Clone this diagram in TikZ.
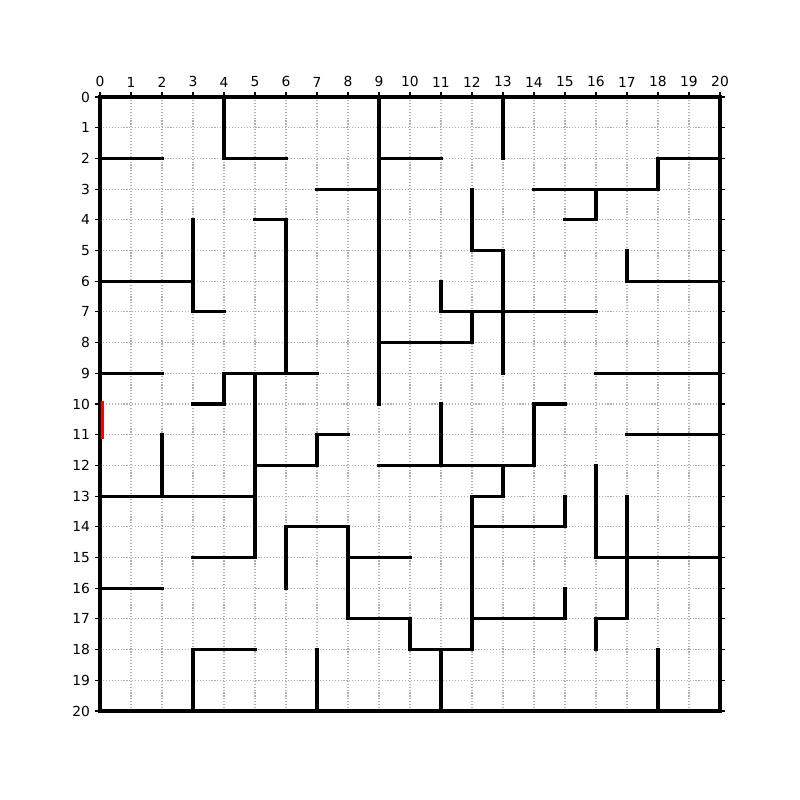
\documentclass[tikz,border=0pt]{standalone}
\usepackage{fontspec}
\setmainfont{DejaVu Sans}
\begin{document}
\begin{tikzpicture}[x=0.31in,y=-0.307in,
  wall/.style={line width=2.2pt,line cap=rect,black},
  gridl/.style={line width=0.8pt,color={rgb,255:red,176;green,176;blue,176},dash pattern=on 0.8pt off 1.32pt},
  tickl/.style={line width=0.8pt},
  lab/.style={inner sep=0pt,font=\fontsize{10}{12}\selectfont}]
\useasboundingbox (-1in,0.97in) rectangle (7in,-7.03in);
% grid
\foreach \i in {0,...,20} {
  \draw[gridl] (\i,0) -- (\i,20);
  \draw[gridl] (0,\i) -- (20,\i);
}
% outer walls
\draw[wall] (0,0) -- (20,0);
\draw[wall] (0,0) -- (0,20);
\draw[wall] (0,20) -- (20,20);
\draw[wall,line width=2.6pt] (20,0) -- (20,20);
% interior walls
\draw[wall] (4,0)--(4,2)--(6,2);
\draw[wall] (0,2)--(2,2);
\draw[wall] (9,0)--(9,10);
\draw[wall] (7,3)--(9,3);
\draw[wall] (9,2)--(11,2);
\draw[wall] (5,4)--(6,4)--(6,9);
\draw[wall] (3,4)--(3,7)--(4,7);
\draw[wall] (0,6)--(3,6);
\draw[wall] (9,8)--(12,8)--(12,7);
\draw[wall] (0,9)--(2,9);
\draw[wall] (4,10)--(4,9)--(7,9);
\draw[wall] (5,9)--(5,15);
\draw[wall] (3,10)--(4,10);
\draw[wall] (13,0)--(13,2);
\draw[wall] (20,2)--(18,2)--(18,3)--(14,3);
\draw[wall] (16,3)--(16,4)--(15,4);
\draw[wall] (12,3)--(12,5)--(13,5)--(13,9);
\draw[wall] (17,5)--(17,6)--(20,6);
\draw[wall] (11,6)--(11,7)--(16,7);
\draw[wall] (16,9)--(20,9);
\draw[wall] (2,11)--(2,13);
\draw[wall] (0,13)--(5,13);
\draw[wall] (5,12)--(7,12)--(7,11)--(8,11);
\draw[wall] (9,12)--(14,12)--(14,10)--(15,10);
\draw[wall] (11,10)--(11,12);
\draw[wall] (3,15)--(5,15);
\draw[wall] (6,16)--(6,14)--(8,14)--(8,17)--(10,17)--(10,18)--(12,18);
\draw[wall] (8,15)--(10,15);
\draw[wall] (0,16)--(2,16);
\draw[wall] (3,20)--(3,18)--(5,18);
\draw[wall] (7,18)--(7,20);
\draw[wall] (17,11)--(20,11);
\draw[wall] (13,12)--(13,13)--(12,13)--(12,18);
\draw[wall] (12,14)--(15,14)--(15,13);
\draw[wall] (16,12)--(16,15)--(20,15);
\draw[wall] (17,13)--(17,17)--(16,17)--(16,18);
\draw[wall] (11,18)--(11,20);
\draw[wall] (12,17)--(15,17)--(15,16);
\draw[wall] (18,18)--(18,20);
% entrance marker
\draw[line width=2.2pt,red] (0.08,9.9) -- (0.08,11.13);
% spines
\draw[tickl] (0,0) rectangle (20,20);
% ticks and labels
\foreach \i in {0,...,20} {
  \draw[tickl] (\i,0) -- ++(0pt,3.5pt);
  \node[lab,anchor=south] (tx\i) at ([yshift=7pt]\i,0) {\i};
  \draw[tickl] (0,\i) -- ++(-3.5pt,0pt);
  \node[lab,anchor=east] (ty\i) at ([xshift=-7pt]0,\i) {\i};
  \draw[tickl] (20,\i) -- ++(3.5pt,0pt);
}
\end{tikzpicture}
\end{document}
